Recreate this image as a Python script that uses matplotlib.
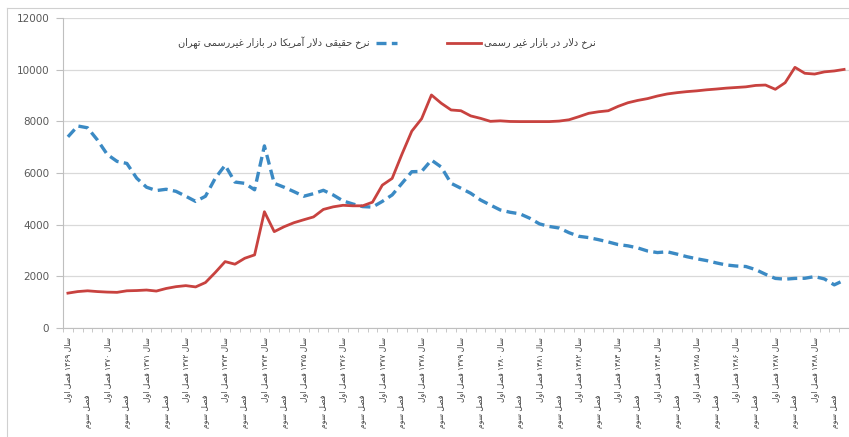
import numpy as np
import matplotlib
matplotlib.use('Agg')
import matplotlib.pyplot as plt
from matplotlib.lines import Line2D

plt.rcParams['font.family'] = ['DejaVu Sans']

# quarterly data, 1369 Q1 .. 1388 Q4
years = ['۱۳۶۹', '۱۳۷۰', '۱۳۷۱', '۱۳۷۲', '۱۳۷۳', '۱۳۷۴', '۱۳۷۵', '۱۳۷۶', '۱۳۷۷', '۱۳۷۸',
         '۱۳۷۹', '۱۳۸۰', '۱۳۸۱', '۱۳۸۲', '۱۳۸۳', '۱۳۸۴', '۱۳۸۵', '۱۳۸۶', '۱۳۸۷', '۱۳۸۸']
quarters = ['اول', 'دوم', 'سوم', 'چهارم']

real_rate = [7400, 7820, 7750, 7280, 6720, 6450, 6370, 5800, 5450, 5320,
             5370, 5290, 5100, 4900, 5100, 5800, 6300, 5650, 5600, 5350,
             7050, 5600, 5450, 5280, 5100, 5200, 5330, 5150, 4920, 4800,
             4700, 4680, 4900, 5150, 5600, 6050, 6060, 6500, 6230, 5600,
             5410, 5215, 4955, 4760, 4570, 4480, 4420, 4250, 4030, 3930,
             3870, 3690, 3550, 3500, 3420, 3330, 3230, 3180, 3100, 2980,
             2920, 2950, 2860, 2760, 2680, 2610, 2520, 2440, 2400, 2380,
             2260, 2080, 1920, 1890, 1920, 1925, 1990, 1900, 1670, 1850]

free_rate = [1350, 1410, 1440, 1410, 1390, 1380, 1440, 1450, 1470, 1430,
             1530, 1600, 1640, 1590, 1760, 2150, 2570, 2470, 2700, 2830,
             4500, 3730, 3920, 4075, 4190, 4300, 4590, 4690, 4750, 4730,
             4730, 4870, 5530, 5790, 6730, 7620, 8100, 9020, 8700, 8440,
             8410, 8210, 8115, 8000, 8020, 7995, 7990, 7990, 7990, 7990,
             8010, 8060, 8180, 8310, 8370, 8410, 8580, 8720, 8810, 8880,
             8980, 9060, 9110, 9150, 9180, 9220, 9250, 9285, 9310, 9335,
             9390, 9405, 9240, 9495, 10090, 9860, 9830, 9915, 9950, 10010]

legend_real = 'نرخ حقیقی دلار آمریکا در بازار غیررسمی تهران'
legend_free = 'نرخ دلار در بازار غیر رسمی'

# very small persian shaper (matplotlib has no bidi / joining)
FORMS = {
    'ا': ('\uFE8D', '\uFE8E', None, None),
    'آ': ('\uFE81', '\uFE82', None, None),
    'ب': ('\uFE8F', '\uFE90', '\uFE91', '\uFE92'),
    'ت': ('\uFE95', '\uFE96', '\uFE97', '\uFE98'),
    'ح': ('\uFEA1', '\uFEA2', '\uFEA3', '\uFEA4'),
    'خ': ('\uFEA5', '\uFEA6', '\uFEA7', '\uFEA8'),
    'د': ('\uFEA9', '\uFEAA', None, None),
    'ر': ('\uFEAD', '\uFEAE', None, None),
    'ز': ('\uFEAF', '\uFEB0', None, None),
    'س': ('\uFEB1', '\uFEB2', '\uFEB3', '\uFEB4'),
    'ص': ('\uFEB9', '\uFEBA', '\uFEBB', '\uFEBC'),
    'غ': ('\uFECD', '\uFECE', '\uFECF', '\uFED0'),
    'ف': ('\uFED1', '\uFED2', '\uFED3', '\uFED4'),
    'ق': ('\uFED5', '\uFED6', '\uFED7', '\uFED8'),
    'ل': ('\uFEDD', '\uFEDE', '\uFEDF', '\uFEE0'),
    'م': ('\uFEE1', '\uFEE2', '\uFEE3', '\uFEE4'),
    'ن': ('\uFEE5', '\uFEE6', '\uFEE7', '\uFEE8'),
    'ه': ('\uFEE9', '\uFEEA', '\uFEEB', '\uFEEC'),
    'و': ('\uFEED', '\uFEEE', None, None),
    'ی': ('\uFBFC', '\uFBFD', '\uFBFE', '\uFBFF'),
    'ک': ('\uFB8E', '\uFB8F', '\uFB90', '\uFB91'),
    'چ': ('\uFB7A', '\uFB7B', '\uFB7C', '\uFB7D'),
}
LAM_ALEF = {'ا': ('\uFEFB', '\uFEFC'), 'آ': ('\uFEF5', '\uFEF6')}


def shape_word(w):
    # merge lam-alef first
    chars = []
    i = 0
    while i < len(w):
        if w[i] == 'ل' and i + 1 < len(w) and w[i + 1] in LAM_ALEF:
            chars.append(('LA', w[i + 1]))
            i += 2
        else:
            chars.append((w[i], None))
            i += 1
    out = []
    for k, (c, extra) in enumerate(chars):
        prev = chars[k - 1][0] if k > 0 else None
        joins_prev = prev is not None and (prev in FORMS and FORMS[prev][2] is not None)
        if c == 'LA':
            out.append(LAM_ALEF[extra][1 if joins_prev else 0])
            continue
        if c not in FORMS:
            out.append(c)
            continue
        f = FORMS[c]
        nxt = chars[k + 1][0] if k + 1 < len(chars) else None
        joins_next = f[2] is not None and nxt is not None and (nxt == 'LA' or nxt in FORMS)
        if joins_prev and joins_next:
            out.append(f[3])
        elif joins_prev:
            out.append(f[1])
        elif joins_next:
            out.append(f[2])
        else:
            out.append(f[0])
    return ''.join(out)


def fa(text):
    words = text.split(' ')
    vis = []
    for w in words:
        if w and w[0] in '۰۱۲۳۴۵۶۷۸۹':
            vis.append(w)
        else:
            vis.append(shape_word(w)[::-1])
    return ' '.join(vis[::-1])


x = np.arange(len(real_rate))

fig = plt.figure(figsize=(8.49, 4.37), dpi=100)
ax = fig.add_axes([63 / 849, 1 - 328 / 437, 786 / 849, 310 / 437])

ax.plot(x, real_rate, color='#3B8AC4', lw=2.4, ls=(0, (3.0, 1.6)), solid_capstyle='butt')
ax.plot(x, free_rate, color='#C8423F', lw=2.0)

ax.set_xlim(-0.5, len(x) - 0.5)
ax.set_ylim(0, 12000)
ax.set_yticks(np.arange(0, 12001, 2000))
ax.yaxis.grid(True, color='#D9D9D9', lw=0.9)
ax.set_axisbelow(True)
ax.tick_params(axis='y', length=5, color='#BFBFBF', labelsize=7.5, labelcolor='#595959', pad=5)

ax.set_xticks([])
ax.set_xticks(np.arange(-0.5, len(x), 1), minor=True)
ax.tick_params(axis='x', which='minor', length=3, color='#BFBFBF')

for s in ['top', 'right']:
    ax.spines[s].set_visible(False)
ax.spines['left'].set_color('#BFBFBF')
ax.spines['bottom'].set_color('#BFBFBF')

# rotated category labels, every second quarter
tr = ax.get_xaxis_transform()
for yi, yr in enumerate(years):
    ax.text(yi * 4, -0.03, fa('سال ' + yr + ' فصل ' + quarters[0]), transform=tr,
            rotation=90, ha='center', va='top', fontsize=5.5, color='#404040')
    ax.text(yi * 4 + 2, -0.215, fa('فصل ' + quarters[2]), transform=tr,
            rotation=90, ha='center', va='top', fontsize=5.5, color='#404040')

# legend drawn by hand (right-to-left layout)
ly = 1 - 43 / 437
fig.text(370 / 849, ly, fa(legend_real), ha='right', va='center', fontsize=7, color='#404040')
fig.add_artist(Line2D([376 / 849, 397 / 849], [ly, ly], color='#3B8AC4', lw=2.4,
                      ls=(0, (3.0, 1.6)), transform=fig.transFigure))
fig.add_artist(Line2D([447 / 849, 481 / 849], [ly, ly], color='#C8423F', lw=2.0,
                      transform=fig.transFigure))
fig.text(484 / 849, ly, fa(legend_free), ha='left', va='center', fontsize=7, color='#404040')

# chart area border (left and top edges visible)
fig.add_artist(Line2D([7 / 849, 7 / 849], [0, 1 - 8 / 437], color='#D0D0D0', lw=0.8,
                      transform=fig.transFigure))
fig.add_artist(Line2D([7 / 849, 1], [1 - 8 / 437, 1 - 8 / 437], color='#D0D0D0', lw=0.8,
                      transform=fig.transFigure))

fig.savefig('out.png', dpi=100)
